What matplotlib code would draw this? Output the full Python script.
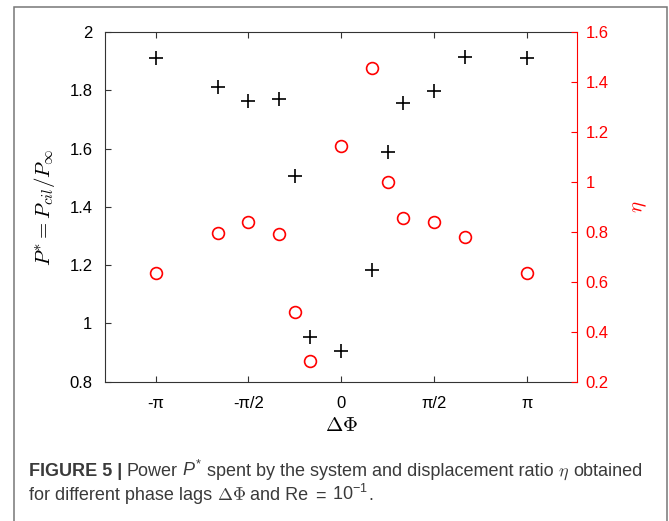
import numpy as np
import matplotlib
matplotlib.use("Agg")
import matplotlib.pyplot as plt
from matplotlib.patches import Rectangle

# phase lag between the two cylinders and the measured quantities
phase = [-np.pi, -2*np.pi/3, -np.pi/2, -np.pi/3, -np.pi/4, -np.pi/6, 0,
         np.pi/6, np.pi/4, np.pi/3, np.pi/2, 2*np.pi/3, np.pi]
power = [1.910, 1.812, 1.762, 1.769, 1.507, 0.954, 0.905,
         1.183, 1.587, 1.757, 1.796, 1.913, 1.910]
eta = [0.634, 0.794, 0.839, 0.791, 0.480, 0.283, 1.145,
       1.455, 0.999, 0.855, 0.840, 0.778, 0.634]

xticks = [-np.pi, -np.pi/2, 0, np.pi/2, np.pi]
xticklabels = ["-\u03c0", "-\u03c0/2", "0", "\u03c0/2", "\u03c0"]
power_ticks = [0.8, 1, 1.2, 1.4, 1.6, 1.8, 2]
eta_ticks = [0.2, 0.4, 0.6, 0.8, 1, 1.2, 1.4, 1.6]

plt.rcParams["font.family"] = ["Liberation Sans", "DejaVu Sans"]
plt.rcParams["mathtext.fontset"] = "custom"
plt.rcParams["mathtext.rm"] = "Liberation Sans"
plt.rcParams["mathtext.it"] = "Liberation Sans:italic"

W, H = 669, 521
fig = plt.figure(figsize=(W/100, H/100), dpi=100)

# outer frame around figure + caption
fig.patches.append(Rectangle((14/W, -0.05), (667-14)/W, 1.05 - 7/H,
                             transform=fig.transFigure, fill=False,
                             edgecolor="#777777", linewidth=1.1))

ax = fig.add_axes([105/W, 1-381.7/H, (577.3-105)/W, (381.7-32)/H])
ax2 = ax.twinx()

ax.plot(phase, power, "+", color="black", ms=10, mew=1.2, zorder=3)
ax2.plot(phase, eta, "o", color="red", mfc="none", ms=8.5, mew=1.2)

ax.set_xlim(-4, 4)
ax.set_ylim(0.8, 2)
ax2.set_ylim(0.2, 1.6)

ax.set_xticks(xticks)
ax.set_xticklabels(xticklabels)
ax.set_yticks(power_ticks)
ax.set_yticklabels([f"{v:g}" for v in power_ticks])
ax2.set_yticks(eta_ticks)
ax2.set_yticklabels([f"{v:g}" for v in eta_ticks])

axis_col = "#333333"
for s in ["left", "bottom", "top"]:
    ax.spines[s].set_color(axis_col)
    ax.spines[s].set_linewidth(0.8)
ax.spines["right"].set_visible(False)
for s in ["left", "bottom", "top"]:
    ax2.spines[s].set_visible(False)
ax2.spines["right"].set_color("red")
ax2.spines["right"].set_linewidth(0.8)

ax.tick_params(axis="x", direction="in", length=4.5, width=0.8, color=axis_col,
               top=True, labelsize=12, pad=10, labelcolor="black")
ax.tick_params(axis="y", direction="in", length=4.5, width=0.8, color=axis_col,
               labelsize=12, pad=9, labelcolor="black")
ax2.tick_params(axis="y", direction="in", length=4.5, width=0.8, color="red",
                labelsize=12, pad=6, labelcolor="red")

ax.set_xlabel(r"$\Delta\Phi$", fontsize=15, math_fontfamily="cm", labelpad=4)
ax.set_ylabel(r"$P^{*} = P_{cil}/P_{\infty}$", fontsize=15, math_fontfamily="cm",
              labelpad=9)
ax2.set_ylabel(r"$\eta$", fontsize=15, math_fontfamily="cm", color="red",
               labelpad=15)

# caption, written piece by piece so fonts can change mid-line
cap = dict(color="#3a3a3a", fontsize=13, va="baseline")
renderer = fig.canvas.get_renderer()


def put_line(y, pieces, x0=29/W):
    x = x0
    for text, kw, gap in pieces:
        t = fig.text(x, y, text, **{**cap, **kw})
        bb = t.get_window_extent(renderer=renderer)
        x = (bb.x1 + gap) / W


sp = 4.5
put_line(1-476/H, [
    ("FIGURE 5 |", dict(weight="bold"), sp),
    ("Power", {}, sp),
    (r"$P^{*}$", {}, sp),
    ("spent by the system and displacement ratio", {}, sp),
    (r"$\eta$", dict(math_fontfamily="cm"), sp),
    ("obtained", {}, 0),
])
put_line(1-500/H, [
    ("for different phase lags", {}, sp),
    (r"$\Delta\Phi$", dict(math_fontfamily="cm"), sp),
    ("and Re", {}, sp),
    (r"$=$", {}, sp),
    (r"$10^{-1}$", {}, 1),
    (".", {}, 0),
])

fig.savefig("out.png", dpi=100)
